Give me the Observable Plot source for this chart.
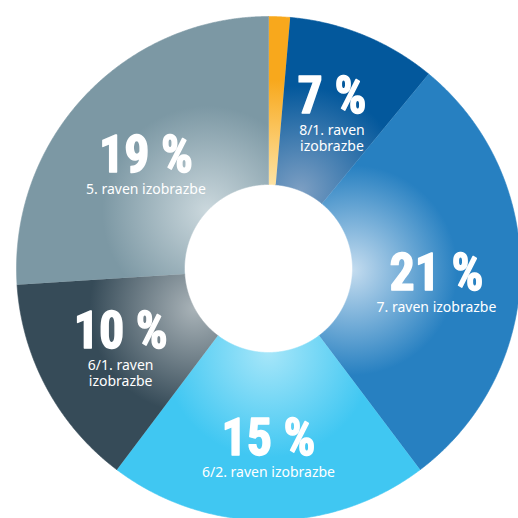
<!DOCTYPE html>
<html>
<head>
<meta charset="utf-8">
<script src="https://cdn.jsdelivr.net/npm/d3@7"></script>
<script src="https://cdn.jsdelivr.net/npm/@observablehq/plot@0.6"></script>
<style>
  body { margin: 0; background: #ffffff; }
  #chart svg { display: block; }
</style>
</head>
<body>
<div id="chart"></div>
<script>
// ---- data ----
const categories = ["ostalo", "8/1. raven izobrazbe", "7. raven izobrazbe", "6/2. raven izobrazbe", "6/1. raven izobrazbe", "5. raven izobrazbe"];
const values = [1, 7, 21, 15, 10, 19];
const percentLabels = ["", "7 %", "21 %", "15 %", "10 %", "19 %"];
const subLabels = ["", "8/1. raven\nizobrazbe", "7. raven izobrazbe", "6/2. raven izobrazbe", "6/1. raven\nizobrazbe", "5. raven izobrazbe"];

// ---- palette ----
const baseColors = ["#f8a81c", "#03589c", "#2780c1", "#40c7f2", "#364b58", "#7c98a4"];
const glowColors = ["#fde3a4", "#7d9fc3", "#c4dcef", "#a6e6f9", "#a9b3b8", "#cbd8dd"];

const R_OUT = 252, R_IN = 84, R_LABEL = 168;
const NUM_FONT = "'Roboto Condensed', 'Liberation Sans Narrow', 'DejaVu Sans Condensed', 'Roboto', sans-serif";

const arcs = d3.pie().sort(null).value(d => d)(values);

// slice outlines (outer arc forward, inner arc back)
const points = [];
arcs.forEach((a, i) => {
  const n = Math.max(2, Math.ceil((a.endAngle - a.startAngle) / 0.004));
  for (let k = 0; k <= n; k++) {
    const t = a.startAngle + (a.endAngle - a.startAngle) * k / n;
    points.push({key: categories[i], x: R_OUT * Math.sin(t), y: R_OUT * Math.cos(t)});
  }
  for (let k = n; k >= 0; k--) {
    const t = a.startAngle + (a.endAngle - a.startAngle) * k / n;
    points.push({key: categories[i], x: R_IN * Math.sin(t), y: R_IN * Math.cos(t)});
  }
});

// label anchors at slice mid-angles
const labels = arcs.map((a, i) => {
  const mid = (a.startAngle + a.endAngle) / 2;
  const cx = R_LABEL * Math.sin(mid), cy = R_LABEL * Math.cos(mid);
  const lines = subLabels[i].split("\n").length;
  const numY = lines === 1 ? cy - 18 : cy;
  return {pct: percentLabels[i], sub: subLabels[i], x: cx, numY, subY: numY - 11};
}).filter(d => d.pct !== "");

const chart = Plot.plot({
  width: 518,
  height: 518,
  margin: 0,
  style: {background: "transparent"},
  x: {domain: [-268, 250], axis: null},
  y: {domain: [-250, 268], axis: null},
  color: {type: "ordinal", domain: categories, range: categories.map((c, i) => `url(#slice-grad-${i})`)},
  marks: [
    Plot.line(points, {x: "x", y: "y", z: "key", fill: "key", stroke: "key", strokeWidth: 0.6, curve: "linear"}),
    Plot.text(labels, {
      x: "x", y: "numY", text: "pct", fill: "white", stroke: "white", strokeWidth: 1.4,
      fontSize: 51, fontWeight: "bold",
      fontFamily: NUM_FONT, lineAnchor: "bottom", className: "pct-label"
    }),
    Plot.text(labels, {
      x: "x", y: "subY", text: "sub", fill: "white", fontSize: 14, lineHeight: 1.12,
      fontFamily: "'Noto Sans', 'Liberation Sans', sans-serif",
      lineAnchor: "top", className: "sub-label"
    })
  ]
});

const sx = chart.scale("x"), sy = chart.scale("y");
const defs = d3.select(chart).insert("defs", ":first-child");
arcs.forEach((a, i) => {
  const mid = (a.startAngle + a.endAngle) / 2;
  const g = defs.append("radialGradient")
    .attr("id", `slice-grad-${i}`)
    .attr("gradientUnits", "userSpaceOnUse")
    .attr("cx", sx.apply(R_IN * Math.sin(mid)))
    .attr("cy", sy.apply(R_IN * Math.cos(mid)))
    .attr("r", 105);
  g.append("stop").attr("offset", 0).attr("stop-color", glowColors[i]);
  g.append("stop").attr("offset", 1).attr("stop-color", baseColors[i]);
});

document.getElementById("chart").appendChild(chart);

// condense the big percentage figures horizontally (reference uses a narrow display face)
let numTexts = chart.querySelectorAll(".pct-label text");
if (!numTexts.length) {
  const groups = chart.querySelectorAll("g[aria-label='text']");
  if (groups.length) numTexts = groups[0].querySelectorAll("text");
}
let ref = null;
numTexts.forEach(t => { if (t.textContent === "19 %") ref = t; });
if (ref) {
  const w = ref.getComputedTextLength();
  const k = Math.min(1, 94 / w);
  numTexts.forEach(t => {
    const tr = t.getAttribute("transform");
    if (tr) t.setAttribute("transform", tr + ` scale(${k},1)`);
    else {
      const x = +t.getAttribute("x") || 0, y = +t.getAttribute("y") || 0;
      t.setAttribute("transform", `translate(${x},${y}) scale(${k},1)`);
      t.removeAttribute("x"); t.removeAttribute("y");
    }
  });
}
</script>
</body>
</html>
